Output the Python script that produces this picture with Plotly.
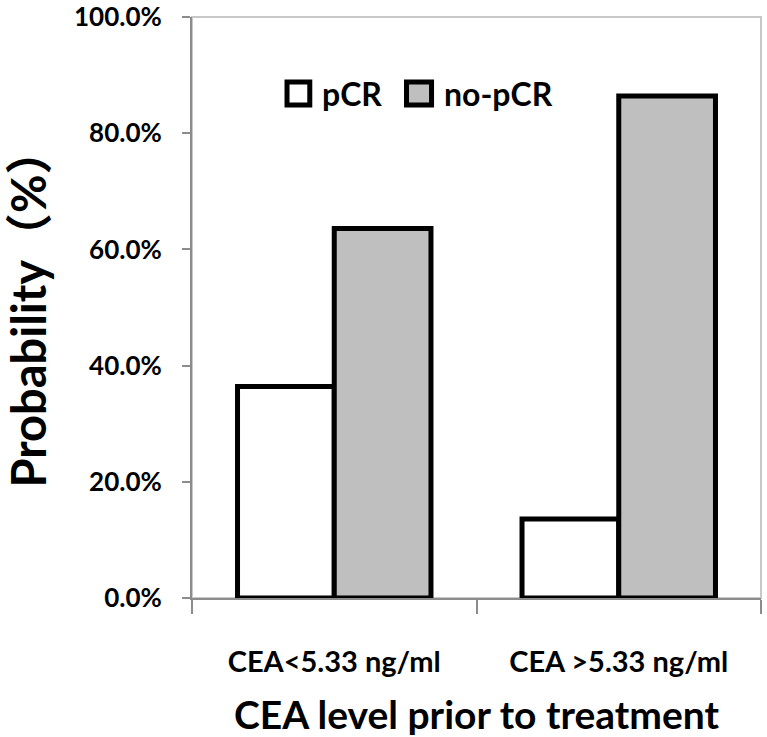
import plotly.graph_objects as go

categories = ["CEA<5.33 ng/ml", "CEA >5.33 ng/ml"]
pcr = [0.364, 0.136]
no_pcr = [0.636, 0.864]
series_names = ["pCR", "no-pCR"]
series_colors = ["white", "#bfbfbf"]

FONT = "Lato, 'Noto Sans CJK SC', sans-serif"

fig = go.Figure()
for name, vals, col in zip(series_names, [pcr, no_pcr], series_colors):
    fig.add_trace(go.Bar(x=categories, y=vals, name=name, showlegend=False,
                         marker=dict(color=col, line=dict(color="black", width=5))))

# custom legend (keys drawn as layout shapes, labels as annotations)
legend_keys = [(0.167, 0.207, 0.2246), (0.377, 0.421, 0.4386)]
shapes = [dict(type="rect", xref="paper", yref="paper", x0=0, x1=1, y0=0, y1=1,
               line=dict(color="#c8c8c8", width=2), layer="below")]
annotations = []
for (kx0, kx1, tx), name, col in zip(legend_keys, series_names, series_colors):
    shapes.append(dict(type="rect", xref="paper", yref="paper", x0=kx0, x1=kx1,
                       y0=0.8485, y1=0.888, fillcolor=col,
                       line=dict(color="black", width=5)))
    annotations.append(dict(text=name, xref="paper", yref="paper", x=tx, y=0.868,
                            xanchor="left", yanchor="middle", showarrow=False,
                            font=dict(size=32, family=FONT, weight="bold", color="black")))

fig.update_layout(
    width=767, height=737,
    margin=dict(l=192, r=6, t=17, b=139),
    paper_bgcolor="white", plot_bgcolor="white",
    barmode="group", bargap=0.32, bargroupgap=0,
    font=dict(family=FONT, color="black"),
    showlegend=False,
    shapes=shapes,
    annotations=annotations,
)
fig.update_xaxes(
    automargin=False,
    showline=True, linecolor="#8c8c8c", linewidth=2,
    ticks="outside", tickson="boundaries", ticklen=14, tickcolor="#8c8c8c", tickwidth=2,
    tickfont=dict(size=29, family=FONT, weight="bold"),
    ticklabelstandoff=37,
    title=dict(text="CEA level prior to treatment", font=dict(size=39, family=FONT, weight="bold"),
               standoff=26),
    showgrid=False,
)
fig.update_yaxes(
    automargin=False,
    range=[0, 1], dtick=0.2, tickformat=".1%",
    showline=True, linecolor="#8c8c8c", linewidth=2,
    ticks="outside", ticklen=8, tickcolor="#8c8c8c", tickwidth=2,
    tickfont=dict(size=26, family=FONT, weight="bold"),
    ticklabelstandoff=15,
    title=dict(text="Probability（%）", font=dict(size=47, family=FONT, weight="bold"),
               standoff=14),
    showgrid=False, zeroline=False,
)
fig.write_html("out.html", config={"displayModeBar": False},
               post_script="document.body.style.margin='0';document.body.style.padding='0';")
